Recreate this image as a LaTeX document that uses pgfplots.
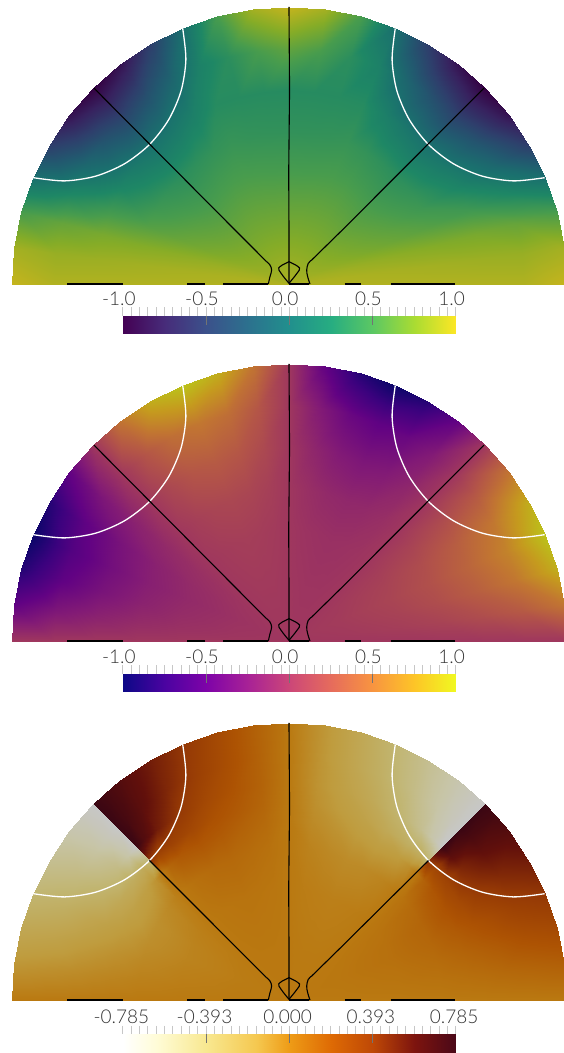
\documentclass[border=0pt]{standalone}
\usepackage{pgfplots}
\pgfplotsset{compat=1.18}
\usepackage{fontspec}
\setmainfont{Lato}[UprightFont=* Light]

% colour bars
\pgfplotsset{
  colormap={vbar}{rgb255=(68,1,84) rgb255=(71,44,122) rgb255=(59,81,139) rgb255=(44,113,142) rgb255=(33,144,141) rgb255=(39,173,129) rgb255=(92,200,99) rgb255=(170,220,50) rgb255=(253,231,37)},
  colormap={pbar}{rgb255=(13,8,135) rgb255=(75,3,161) rgb255=(126,3,168) rgb255=(168,34,150) rgb255=(204,71,120) rgb255=(230,108,92) rgb255=(248,149,64) rgb255=(253,197,39) rgb255=(240,249,33)},
  colormap={hbar}{rgb255(0cm)=(255,255,255) rgb255(1cm)=(255,252,215) rgb255(2.5cm)=(248,232,144) rgb255(4cm)=(245,200,80) rgb255(5cm)=(238,155,22) rgb255(6.25cm)=(222,106,4) rgb255(7.5cm)=(190,72,6) rgb255(8.75cm)=(125,20,14) rgb255(10cm)=(74,8,24)},
  % same maps, as lit on the disc
  colormap={vlit}{rgb255=(53,1,66) rgb255=(55,34,95) rgb255=(46,63,108) rgb255=(34,88,111) rgb255=(26,112,110) rgb255=(30,135,101) rgb255=(72,156,77) rgb255=(133,172,39) rgb255=(197,180,29)},
  colormap={plit}{rgb255=(10,6,105) rgb255=(59,2,126) rgb255=(98,2,131) rgb255=(131,27,117) rgb255=(159,55,94) rgb255=(179,84,72) rgb255=(193,116,50) rgb255=(197,154,30) rgb255=(187,194,26)},
  colormap={hlit}{rgb255(0cm)=(199,199,199) rgb255(1cm)=(199,197,168) rgb255(2.5cm)=(193,181,112) rgb255(4cm)=(191,156,62) rgb255(5cm)=(186,121,17) rgb255(6.25cm)=(173,83,3) rgb255(7.5cm)=(148,56,5) rgb255(8.75cm)=(98,16,11) rgb255(10cm)=(58,6,19)},
  disc/.style={scale only axis,width=552.4pt,height=281.2pt,anchor=south west,
    xmin=-1.005,xmax=0.9892,ymin=-0.01,ymax=1.005,hide axis},
  field/.style={surf,shader=interp,data cs=polar,point meta=explicit},
  bar/.style={scale only axis,width=332.8pt,height=18pt,anchor=south west,
    ymin=0,ymax=1,ytick=\empty,axis line style={draw=none},
    xtick pos=upper,xticklabel pos=upper,tick align=outside,
    major tick length=8.5pt,minor tick length=8.5pt,
    tick style={black!22,line width=0.7pt},minor x tick num=9,
    xticklabel style={font=\fontsize{19}{19}\selectfont,text=black!80,yshift=-1.5pt}},
  barfill/.style={surf,shader=interp,point meta=x,forget plot},
  inner/.style={black!55,line width=0.6pt,forget plot},
  bl/.style={black,line width=1.1pt,no markers,forget plot},
  wh/.style={white,line width=1.3pt,no markers,smooth,forget plot},
}

\newcommand\commonlines{
  \addplot[bl] coordinates {(0,1) (0.002,0.7) (-0.001,0.4) (0,0.2) (0,0.0025)};
  \addplot[bl,smooth,tension=0.5] coordinates {(0,0.0805) (-0.025,0.068) (-0.037,0.058) (-0.036,0.050) (-0.02,0.027) (0,0.0025)};
  \addplot[bl,smooth,tension=0.5] coordinates {(0,0.0805) (0.025,0.068) (0.038,0.058) (0.037,0.050) (0.02,0.027) (0,0.0025)};
  \addplot[bl] coordinates {(-0.801,0) (-0.600,0)};
  \addplot[bl] coordinates {(-0.368,0) (-0.303,0)};
  \addplot[bl] coordinates {(-0.237,0) (-0.075,0)};
  \addplot[bl] coordinates {(0,0) (0.074,0)};
  \addplot[bl] coordinates {(0.201,0) (0.261,0)};
  \addplot[bl] coordinates {(0.367,0) (0.600,0)};
  \addplot[wh] coordinates {(-0.3838,0.9230) (-0.3722,0.8102) (-0.3895,0.6974) (-0.4343,0.5933) (-0.5036,0.5036) (-0.5933,0.4343) (-0.6974,0.3895) (-0.8102,0.3722) (-0.9230,0.3838)};
  \addplot[wh] coordinates {(0.3838,0.9230) (0.3722,0.8102) (0.3895,0.6974) (0.4343,0.5933) (0.5036,0.5036) (0.5933,0.4343) (0.6974,0.3895) (0.8102,0.3722) (0.9230,0.3838)};
}
\newcommand\lowerdiag[2]{
  \addplot[bl] coordinates {(-#1,#2) (-0.195,0.195) (-0.0805,0.0805)};
  \addplot[bl,smooth,tension=0.6] coordinates {(-0.0805,0.0805) (-0.0686,0.0686) (-0.0626,0.0505) (-0.0686,0.0264) (-0.0747,0)};
  \addplot[bl] coordinates {(#1,#2) (0.1925,0.195) (0.082,0.0866)};
  \addplot[bl,smooth,tension=0.6] coordinates {(0.082,0.0866) (0.0697,0.0747) (0.0639,0.0505) (0.0675,0.0264) (0.0758,0)};
}

\begin{document}
\begin{tikzpicture}
\path[use as bounding box] (0pt,0pt) rectangle (563pt,1053pt);

% ---- top disc
\begin{axis}[disc,at={(10.6pt,766.2pt)},colormap name=vlit,point meta min=-1,point meta max=1]
\addplot[field,mesh/rows=25] coordinates {
(0,0)[.92] (0,.2)[.92] (0,.4)[.92] (0,.55)[.92] (0,.7)[.92] (0,.85)[.92] (0,1)[1]
(7.5,0)[.91] (7.5,.2)[.90] (7.5,.4)[.88] (7.5,.55)[.86] (7.5,.7)[.84] (7.5,.85)[.82] (7.5,1)[.87]
(15,0)[.90] (15,.2)[.85] (15,.4)[.78] (15,.55)[.74] (15,.7)[.70] (15,.85)[.62] (15,1)[.50]
(22.5,0)[.90] (22.5,.2)[.78] (22.5,.4)[.65] (22.5,.55)[.55] (22.5,.7)[.45] (22.5,.85)[.25] (22.5,1)[0]
(30,0)[.90] (30,.2)[.74] (30,.4)[.58] (30,.55)[.44] (30,.7)[.22] (30,.85)[-.08] (30,1)[-.50]
(37.5,0)[.90] (37.5,.2)[.72] (37.5,.4)[.53] (37.5,.55)[.37] (37.5,.7)[.10] (37.5,.85)[-.30] (37.5,1)[-.87]
(45,0)[.90] (45,.2)[.70] (45,.4)[.50] (45,.55)[.33] (45,.7)[.03] (45,.85)[-.45] (45,1)[-1]
(52.5,0)[.90] (52.5,.2)[.70] (52.5,.4)[.51] (52.5,.55)[.35] (52.5,.7)[.07] (52.5,.85)[-.33] (52.5,1)[-.87]
(60,0)[.90] (60,.2)[.70] (60,.4)[.52] (60,.55)[.38] (60,.7)[.16] (60,.85)[-.12] (60,1)[-.50]
(67.5,0)[.90] (67.5,.2)[.70] (67.5,.4)[.52] (67.5,.55)[.40] (67.5,.7)[.30] (67.5,.85)[.18] (67.5,1)[0]
(75,0)[.90] (75,.2)[.70] (75,.4)[.51] (75,.55)[.38] (75,.7)[.30] (75,.85)[.33] (75,1)[.50]
(82.5,0)[.90] (82.5,.2)[.70] (82.5,.4)[.50] (82.5,.55)[.37] (82.5,.7)[.30] (82.5,.85)[.50] (82.5,1)[.87]
(90,0)[.90] (90,.2)[.70] (90,.4)[.50] (90,.55)[.37] (90,.7)[.30] (90,.85)[.60] (90,1)[1]
(97.5,0)[.90] (97.5,.2)[.70] (97.5,.4)[.50] (97.5,.55)[.37] (97.5,.7)[.30] (97.5,.85)[.50] (97.5,1)[.87]
(105,0)[.90] (105,.2)[.70] (105,.4)[.51] (105,.55)[.38] (105,.7)[.30] (105,.85)[.33] (105,1)[.50]
(112.5,0)[.90] (112.5,.2)[.70] (112.5,.4)[.52] (112.5,.55)[.40] (112.5,.7)[.30] (112.5,.85)[.18] (112.5,1)[0]
(120,0)[.90] (120,.2)[.70] (120,.4)[.52] (120,.55)[.38] (120,.7)[.16] (120,.85)[-.12] (120,1)[-.50]
(127.5,0)[.90] (127.5,.2)[.70] (127.5,.4)[.51] (127.5,.55)[.35] (127.5,.7)[.07] (127.5,.85)[-.33] (127.5,1)[-.87]
(135,0)[.90] (135,.2)[.70] (135,.4)[.50] (135,.55)[.33] (135,.7)[.03] (135,.85)[-.45] (135,1)[-1]
(142.5,0)[.90] (142.5,.2)[.72] (142.5,.4)[.53] (142.5,.55)[.37] (142.5,.7)[.10] (142.5,.85)[-.30] (142.5,1)[-.87]
(150,0)[.90] (150,.2)[.74] (150,.4)[.58] (150,.55)[.44] (150,.7)[.22] (150,.85)[-.08] (150,1)[-.50]
(157.5,0)[.90] (157.5,.2)[.78] (157.5,.4)[.65] (157.5,.55)[.55] (157.5,.7)[.45] (157.5,.85)[.25] (157.5,1)[0]
(165,0)[.90] (165,.2)[.85] (165,.4)[.78] (165,.55)[.74] (165,.7)[.70] (165,.85)[.62] (165,1)[.50]
(172.5,0)[.91] (172.5,.2)[.90] (172.5,.4)[.88] (172.5,.55)[.86] (172.5,.7)[.84] (172.5,.85)[.82] (172.5,1)[.87]
(180,0)[.92] (180,.2)[.92] (180,.4)[.92] (180,.55)[.92] (180,.7)[.92] (180,.85)[.92] (180,1)[1]
};
\commonlines
\lowerdiag{0.704}{0.707}
\end{axis}
\begin{axis}[bar,at={(122.8pt,719pt)},colormap name=vbar,xmin=-1,xmax=1,
  xtick={-1,-0.5,0,0.5,1},xticklabels={-1.0,-0.5,0.0,0.5,1.0},
  xticklabel style={xshift=-4pt}]
\addplot[barfill,mesh/rows=2] coordinates {(-1,0) (1,0) (-1,1) (1,1)};
\addplot[inner] coordinates {(-0.5,1) (-0.5,0.5)};
\addplot[inner] coordinates {(0,1) (0,0.5)};
\addplot[inner] coordinates {(0.5,1) (0.5,0.5)};
\end{axis}

% ---- middle disc
\begin{axis}[disc,at={(10.6pt,409.2pt)},colormap name=plit,point meta min=-1,point meta max=1]
\addplot[field,mesh/rows=25] coordinates {
(0,0)[0] (0,.2)[0] (0,.4)[0] (0,.55)[0] (0,.7)[0] (0,.85)[0] (0,1)[0]
(7.5,0)[0] (7.5,.2)[.02] (7.5,.4)[.06] (7.5,.55)[.11] (7.5,.7)[.19] (7.5,.85)[.30] (7.5,1)[.50]
(15,0)[0] (15,.2)[.03] (15,.4)[.10] (15,.55)[.19] (15,.7)[.33] (15,.85)[.52] (15,1)[.87]
(22.5,0)[0] (22.5,.2)[.04] (22.5,.4)[.12] (22.5,.55)[.22] (22.5,.7)[.38] (22.5,.85)[.60] (22.5,1)[1]
(30,0)[0] (30,.2)[.03] (30,.4)[.10] (30,.55)[.19] (30,.7)[.33] (30,.85)[.52] (30,1)[.87]
(37.5,0)[0] (37.5,.2)[.02] (37.5,.4)[.06] (37.5,.55)[.11] (37.5,.7)[.19] (37.5,.85)[.30] (37.5,1)[.50]
(45,0)[0] (45,.2)[0] (45,.4)[0] (45,.55)[0] (45,.7)[0] (45,.85)[0] (45,1)[0]
(52.5,0)[0] (52.5,.2)[-.01] (52.5,.4)[-.03] (52.5,.55)[-.07] (52.5,.7)[-.15] (52.5,.85)[-.26] (52.5,1)[-.50]
(60,0)[0] (60,.2)[-.02] (60,.4)[-.05] (60,.55)[-.12] (60,.7)[-.26] (60,.85)[-.45] (60,1)[-.87]
(67.5,0)[0] (67.5,.2)[-.02] (67.5,.4)[-.06] (67.5,.55)[-.14] (67.5,.7)[-.30] (67.5,.85)[-.52] (67.5,1)[-1]
(75,0)[0] (75,.2)[-.02] (75,.4)[-.05] (75,.55)[-.12] (75,.7)[-.26] (75,.85)[-.45] (75,1)[-.87]
(82.5,0)[0] (82.5,.2)[-.01] (82.5,.4)[-.03] (82.5,.55)[-.07] (82.5,.7)[-.15] (82.5,.85)[-.26] (82.5,1)[-.50]
(90,0)[0] (90,.2)[0] (90,.4)[0] (90,.55)[0] (90,.7)[0] (90,.85)[0] (90,1)[0]
(97.5,0)[0] (97.5,.2)[.01] (97.5,.4)[.03] (97.5,.55)[.07] (97.5,.7)[.15] (97.5,.85)[.26] (97.5,1)[.50]
(105,0)[0] (105,.2)[.02] (105,.4)[.05] (105,.55)[.12] (105,.7)[.26] (105,.85)[.45] (105,1)[.87]
(112.5,0)[0] (112.5,.2)[.02] (112.5,.4)[.06] (112.5,.55)[.14] (112.5,.7)[.30] (112.5,.85)[.52] (112.5,1)[1]
(120,0)[0] (120,.2)[.02] (120,.4)[.05] (120,.55)[.12] (120,.7)[.26] (120,.85)[.45] (120,1)[.87]
(127.5,0)[0] (127.5,.2)[.01] (127.5,.4)[.03] (127.5,.55)[.07] (127.5,.7)[.15] (127.5,.85)[.26] (127.5,1)[.50]
(135,0)[0] (135,.2)[0] (135,.4)[0] (135,.55)[0] (135,.7)[0] (135,.85)[0] (135,1)[0]
(142.5,0)[0] (142.5,.2)[-.02] (142.5,.4)[-.06] (142.5,.55)[-.11] (142.5,.7)[-.19] (142.5,.85)[-.30] (142.5,1)[-.50]
(150,0)[0] (150,.2)[-.03] (150,.4)[-.10] (150,.55)[-.19] (150,.7)[-.33] (150,.85)[-.52] (150,1)[-.87]
(157.5,0)[0] (157.5,.2)[-.04] (157.5,.4)[-.12] (157.5,.55)[-.22] (157.5,.7)[-.38] (157.5,.85)[-.60] (157.5,1)[-1]
(165,0)[0] (165,.2)[-.03] (165,.4)[-.10] (165,.55)[-.19] (165,.7)[-.33] (165,.85)[-.52] (165,1)[-.87]
(172.5,0)[0] (172.5,.2)[-.02] (172.5,.4)[-.06] (172.5,.55)[-.11] (172.5,.7)[-.19] (172.5,.85)[-.30] (172.5,1)[-.50]
(180,0)[0] (180,.2)[0] (180,.4)[0] (180,.55)[0] (180,.7)[0] (180,.85)[0] (180,1)[0]
};
\commonlines
\lowerdiag{0.704}{0.707}
\end{axis}
\begin{axis}[bar,at={(122.8pt,361pt)},colormap name=pbar,xmin=-1,xmax=1,
  xtick={-1,-0.5,0,0.5,1},xticklabels={-1.0,-0.5,0.0,0.5,1.0},
  xticklabel style={xshift=-4pt}]
\addplot[barfill,mesh/rows=2] coordinates {(-1,0) (1,0) (-1,1) (1,1)};
\addplot[inner] coordinates {(-0.5,1) (-0.5,0.5)};
\addplot[inner] coordinates {(0,1) (0,0.5)};
\addplot[inner] coordinates {(0.5,1) (0.5,0.5)};
\end{axis}

% ---- bottom disc, four sectors because of the jump on the diagonals
\begin{axis}[disc,at={(10.6pt,50.2pt)},colormap name=hlit,point meta min=-0.785,point meta max=0.785]
\addplot[field,mesh/rows=8] coordinates {
(90,0)[0] (90,.2)[0] (90,.4)[0] (90,.55)[0] (90,.65)[0] (90,.71)[0] (90,.78)[0] (90,.88)[0] (90,1)[0]
(97.5,0)[0] (97.5,.2)[.004] (97.5,.4)[.015] (97.5,.55)[.04] (97.5,.65)[.077] (97.5,.71)[.10] (97.5,.78)[.115] (97.5,.88)[.125] (97.5,1)[.131]
(105,0)[0] (105,.2)[.007] (105,.4)[.024] (105,.55)[.065] (105,.65)[.12] (105,.71)[.16] (105,.78)[.195] (105,.88)[.235] (105,1)[.262]
(112.5,0)[0] (112.5,.2)[.007] (112.5,.4)[.029] (112.5,.55)[.084] (112.5,.65)[.162] (112.5,.71)[.209] (112.5,.78)[.273] (112.5,.88)[.342] (112.5,1)[.393]
(120,0)[0] (120,.2)[.007] (120,.4)[.024] (120,.55)[.077] (120,.65)[.185] (120,.71)[.277] (120,.78)[.374] (120,.88)[.474] (120,1)[.524]
(127.5,0)[0] (127.5,.2)[.004] (127.5,.4)[.015] (127.5,.55)[.049] (127.5,.65)[.161] (127.5,.71)[.331] (127.5,.78)[.529] (127.5,.88)[.621] (127.5,1)[.655]
(132,0)[0] (132,.2)[.002] (132,.4)[.006] (132,.55)[.022] (132,.65)[.099] (132,.71)[.319] (132,.78)[.664] (132,.88)[.72] (132,1)[.733]
(135,0)[0] (135,.2)[0] (135,.4)[0] (135,.55)[0] (135,.65)[0] (135,.71)[.393] (135,.78)[.785] (135,.88)[.785] (135,1)[.785]
};
\addplot[field,mesh/rows=8] coordinates {
(135,0)[0] (135,.2)[0] (135,.4)[0] (135,.55)[0] (135,.65)[0] (135,.71)[-.393] (135,.78)[-.785] (135,.88)[-.785] (135,1)[-.785]
(138,0)[0] (138,.2)[-.003] (138,.4)[-.012] (138,.55)[-.033] (138,.65)[-.12] (138,.71)[-.288] (138,.78)[-.636] (138,.88)[-.711] (138,1)[-.732]
(142.5,0)[0] (142.5,.2)[-.007] (142.5,.4)[-.028] (142.5,.55)[-.072] (142.5,.65)[-.183] (142.5,.71)[-.306] (142.5,.78)[-.479] (142.5,.88)[-.599] (142.5,1)[-.655]
(150,0)[0] (150,.2)[-.01] (150,.4)[-.043] (150,.55)[-.102] (150,.65)[-.2] (150,.71)[-.269] (150,.78)[-.367] (150,.88)[-.453] (150,1)[-.524]
(157.5,0)[0] (157.5,.2)[-.013] (157.5,.4)[-.046] (157.5,.55)[-.095] (157.5,.65)[-.158] (157.5,.71)[-.199] (157.5,.78)[-.25] (157.5,.88)[-.328] (157.5,1)[-.393]
(165,0)[0] (165,.2)[-.009] (165,.4)[-.033] (165,.55)[-.066] (165,.65)[-.107] (165,.71)[-.133] (165,.78)[-.165] (165,.88)[-.217] (165,1)[-.262]
(172.5,0)[0] (172.5,.2)[-.006] (172.5,.4)[-.017] (172.5,.55)[-.033] (172.5,.65)[-.051] (172.5,.71)[-.066] (172.5,.78)[-.083] (172.5,.88)[-.106] (172.5,1)[-.131]
(180,0)[0] (180,.2)[0] (180,.4)[0] (180,.55)[0] (180,.65)[0] (180,.71)[0] (180,.78)[0] (180,.88)[0] (180,1)[0]
};
\addplot[field,mesh/rows=8] coordinates {
(90,0)[0] (90,.2)[0] (90,.4)[0] (90,.55)[0] (90,.65)[0] (90,.71)[0] (90,.78)[0] (90,.88)[0] (90,1)[0]
(82.5,0)[0] (82.5,.2)[-.004] (82.5,.4)[-.015] (82.5,.55)[-.04] (82.5,.65)[-.077] (82.5,.71)[-.10] (82.5,.78)[-.115] (82.5,.88)[-.125] (82.5,1)[-.131]
(75,0)[0] (75,.2)[-.007] (75,.4)[-.024] (75,.55)[-.065] (75,.65)[-.12] (75,.71)[-.16] (75,.78)[-.195] (75,.88)[-.235] (75,1)[-.262]
(67.5,0)[0] (67.5,.2)[-.007] (67.5,.4)[-.029] (67.5,.55)[-.084] (67.5,.65)[-.162] (67.5,.71)[-.209] (67.5,.78)[-.273] (67.5,.88)[-.342] (67.5,1)[-.393]
(60,0)[0] (60,.2)[-.007] (60,.4)[-.024] (60,.55)[-.077] (60,.65)[-.185] (60,.71)[-.277] (60,.78)[-.374] (60,.88)[-.474] (60,1)[-.524]
(52.5,0)[0] (52.5,.2)[-.004] (52.5,.4)[-.015] (52.5,.55)[-.049] (52.5,.65)[-.161] (52.5,.71)[-.331] (52.5,.78)[-.529] (52.5,.88)[-.621] (52.5,1)[-.655]
(48,0)[0] (48,.2)[-.002] (48,.4)[-.006] (48,.55)[-.022] (48,.65)[-.099] (48,.71)[-.319] (48,.78)[-.664] (48,.88)[-.72] (48,1)[-.733]
(45,0)[0] (45,.2)[0] (45,.4)[0] (45,.55)[0] (45,.65)[0] (45,.71)[-.393] (45,.78)[-.785] (45,.88)[-.785] (45,1)[-.785]
};
\addplot[field,mesh/rows=8] coordinates {
(45,0)[0] (45,.2)[0] (45,.4)[0] (45,.55)[0] (45,.65)[0] (45,.71)[.393] (45,.78)[.785] (45,.88)[.785] (45,1)[.785]
(42,0)[0] (42,.2)[.003] (42,.4)[.012] (42,.55)[.033] (42,.65)[.12] (42,.71)[.288] (42,.78)[.636] (42,.88)[.711] (42,1)[.732]
(37.5,0)[0] (37.5,.2)[.007] (37.5,.4)[.028] (37.5,.55)[.072] (37.5,.65)[.183] (37.5,.71)[.306] (37.5,.78)[.479] (37.5,.88)[.599] (37.5,1)[.655]
(30,0)[0] (30,.2)[.01] (30,.4)[.043] (30,.55)[.102] (30,.65)[.2] (30,.71)[.269] (30,.78)[.367] (30,.88)[.453] (30,1)[.524]
(22.5,0)[0] (22.5,.2)[.013] (22.5,.4)[.046] (22.5,.55)[.095] (22.5,.65)[.158] (22.5,.71)[.199] (22.5,.78)[.25] (22.5,.88)[.328] (22.5,1)[.393]
(15,0)[0] (15,.2)[.009] (15,.4)[.033] (15,.55)[.066] (15,.65)[.107] (15,.71)[.133] (15,.78)[.165] (15,.88)[.217] (15,1)[.262]
(7.5,0)[0] (7.5,.2)[.006] (7.5,.4)[.017] (7.5,.55)[.033] (7.5,.65)[.051] (7.5,.71)[.066] (7.5,.78)[.083] (7.5,.88)[.106] (7.5,1)[.131]
(0,0)[0] (0,.2)[0] (0,.4)[0] (0,.55)[0] (0,.65)[0] (0,.71)[0] (0,.78)[0] (0,.88)[0] (0,1)[0]
};
\commonlines
\lowerdiag{0.5036}{0.5036}
\end{axis}
\begin{axis}[bar,at={(122.8pt,1pt)},colormap name=hbar,xmin=-0.785,xmax=0.785,
  xtick={-0.785,-0.3925,0,0.3925,0.785},xticklabels={-0.785,-0.393,0.000,0.393,0.785},
  xticklabel style={xshift=-1.5pt}]
\addplot[barfill,mesh/rows=2] coordinates {(-0.785,0) (0.785,0) (-0.785,1) (0.785,1)};
\addplot[inner] coordinates {(-0.3925,1) (-0.3925,0.5)};
\addplot[inner] coordinates {(0,1) (0,0.5)};
\addplot[inner] coordinates {(0.3925,1) (0.3925,0.5)};
\end{axis}
\end{tikzpicture}
\end{document}
